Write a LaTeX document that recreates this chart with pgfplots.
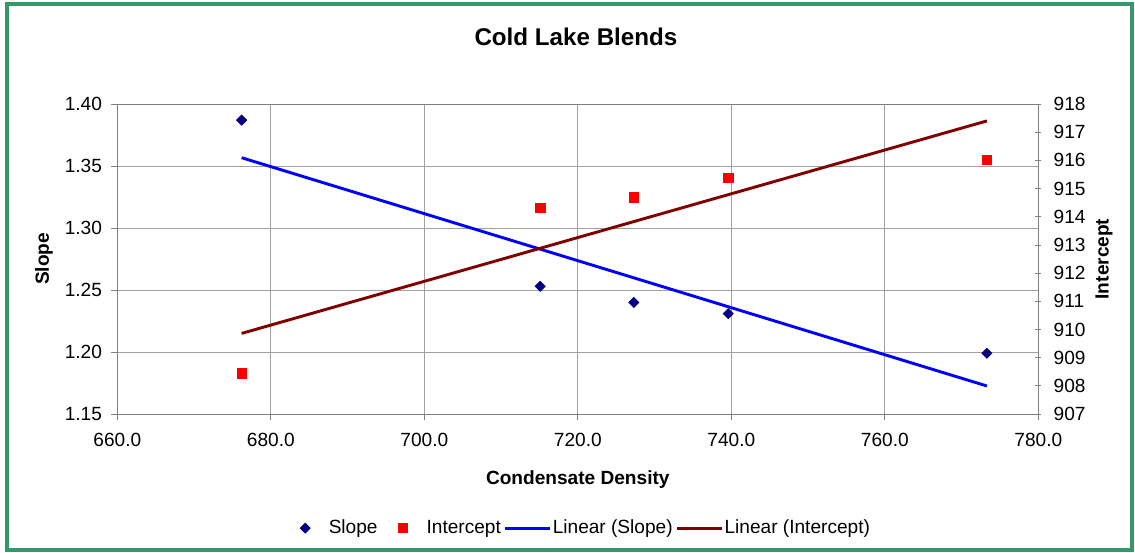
\documentclass[border=0pt]{standalone}
\usepackage{pgfplots}
\pgfplotsset{compat=1.18}
\usepackage{fontspec}
\setmainfont{Liberation Sans}
\definecolor{framegreen}{RGB}{51,153,102}
\definecolor{slopecol}{RGB}{0,0,128}
\definecolor{intcol}{RGB}{255,0,0}
\definecolor{trendS}{RGB}{0,0,255}
\definecolor{trendI}{RGB}{128,0,0}
\definecolor{gridgray}{RGB}{160,160,160}
\definecolor{axgray}{RGB}{128,128,128}
\pgfplotsset{
  common/.style={
    scale only axis, width=506.55pt, height=170.5pt,
    xmin=660, xmax=780,
    /pgf/number format/assume math mode=true,
    ticklabel style={font=\fontsize{10.5}{12}\selectfont},
    label style={font=\fontsize{10.5}{12}\selectfont\bfseries},
    major tick length=3.3pt,
    tick style={axgray, thin},
    axis line style={axgray, thin},
  },
  slopemark/.style={only marks, mark=square*, mark size=1.95pt, mark options={rotate=45}, color=slopecol},
}
\begin{document}
\begin{tikzpicture}
\useasboundingbox (-64.515pt,-75.9pt) rectangle (559.735pt,227.7pt);
\begin{axis}[common,
  ymin=1.15, ymax=1.40,
  xtick={660,680,...,780},
  ytick={1.15,1.20,...,1.401},
  xticklabel style={yshift=-3.8pt, /pgf/number format/.cd, fixed, fixed zerofill, precision=1},
  yticklabel style={xshift=-1.6pt, /pgf/number format/.cd, fixed, fixed zerofill, precision=2},
  tick align=outside,
  xtick pos=bottom, ytick pos=left,
  grid=major, major grid style={gridgray, thin},
  xlabel={Condensate Density},
  ylabel={Slope},
  xlabel style={at={(axis description cs:0.5,-0.21)}, anchor=center},
  ylabel style={at={(axis description cs:-0.0796,0.5)}, anchor=center},
  title={Cold Lake Blends},
  title style={at={(axis description cs:0.498,1.18)}, anchor=center, font=\fontsize{13.3}{15}\selectfont\bfseries},
]
\addplot[slopemark] coordinates {
  (676.2,1.387) (715.1,1.253) (727.3,1.240) (739.6,1.231) (773.3,1.199)
};
% linear trend (slope)
\addplot[trendS, line width=1.6pt] coordinates {
  (676.2,1.3567) (773.3,1.1726)
};
\end{axis}
\begin{axis}[common,
  ymin=907, ymax=918,
  ytick={907,908,...,918},
  axis y line*=right, axis x line=none,
  tick align=center,
  yticklabel style={xshift=3.3pt},
  ylabel={Intercept},
  ylabel style={at={(axis description cs:1.0713,0.5)}, anchor=center},
  legend style={at={(0.499,-0.368)}, anchor=center, draw=none, fill=none,
    font=\fontsize{10.5}{12}\selectfont, legend columns=4,
    nodes={inner xsep=0.6pt},
    /tikz/every even column/.append style={column sep=1pt}},
  legend cell align=left,
  legend image code/.code={%
    \path[draw=none, fill=none] (0pt,0pt) -- (24.75pt,0pt);
    \draw[mark repeat=2,mark phase=2,#1] plot coordinates {(0pt,0pt) (12.4pt,0pt) (24.75pt,0pt)};},
]
\addlegendimage{slopemark}
\addlegendentry{Slope}
\addplot[only marks, mark=square*, mark size=2.6pt, color=intcol] coordinates {
  (676.2,908.45) (715.1,914.31) (727.3,914.69) (739.6,915.38) (773.3,916.01)
};
\addlegendentry{Intercept}
\addlegendimage{trendS, line width=1.6pt}
\addlegendentry{Linear (Slope)}
% linear trend (intercept)
\addplot[trendI, line width=1.6pt] coordinates {
  (676.2,909.86) (773.3,917.40)
};
\addlegendentry{Linear (Intercept)}
\end{axis}
\draw[framegreen, line width=2.2pt] (-60.665pt,-74.8pt) rectangle (558.085pt,225.5pt);
\end{tikzpicture}
\end{document}
